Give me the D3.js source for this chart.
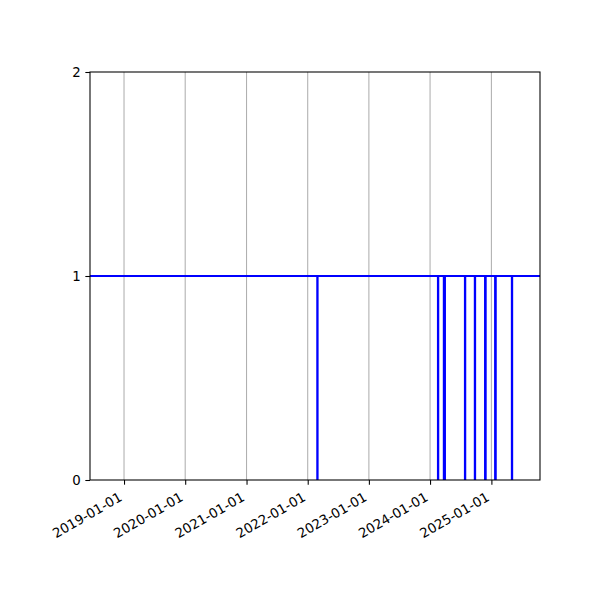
<!DOCTYPE html>
<html><head><meta charset="utf-8">
<script src="https://cdn.jsdelivr.net/npm/d3@7"></script>
<style>body{margin:0;background:#fff}svg{display:block}text{font-family:"DejaVu Sans",sans-serif}</style>
</head><body>
<script>
const dates = ["2018-06-12","2022-02-27","2022-03-01","2024-02-17","2024-02-19","2024-03-23","2024-03-30",
  "2024-07-27","2024-07-29","2024-09-24","2024-09-26","2024-11-24","2024-11-28","2025-01-23","2025-01-27",
  "2025-05-03","2025-05-05","2025-10-18"];
const values = [1,0,1,0,1,0,1,0,1,0,1,0,1,0,1,0,1,1];
const xDomain = ["2018-06-12","2025-10-18"];
const xTicks = ["2019-01-01","2020-01-01","2021-01-01","2022-01-01","2023-01-01","2024-01-01","2025-01-01"];
const yTicks = [0,1,2];

const parse = d3.utcParse("%Y-%m-%d");
const W=600,H=600,L=90,R=540,T=72,B=480;
const svg=d3.select("body").append("svg").attr("width",W).attr("height",H);
const x=d3.scaleUtc().domain(xDomain.map(parse)).range([L,R]);
const y=d3.scaleLinear().domain([0,2]).range([B,T]);

svg.append("defs").append("clipPath").attr("id","c").append("rect").attr("x",L).attr("y",T).attr("width",R-L).attr("height",B-T);

// grid
svg.append("g").selectAll("line").data(xTicks).join("line")
  .attr("x1",d=>x(parse(d))).attr("x2",d=>x(parse(d))).attr("y1",T).attr("y2",B)
  .attr("stroke","#b0b0b0").attr("stroke-width",1.07);

const pts=dates.map((d,i)=>({d:parse(d),v:values[i]}));
svg.append("path").datum(pts).attr("clip-path","url(#c)")
  .attr("d",d3.line().x(p=>x(p.d)).y(p=>y(p.v)).curve(d3.curveStepAfter))
  .attr("fill","none").attr("stroke","#0000ff").attr("stroke-width",2).attr("stroke-linejoin","miter");

// spines
svg.append("rect").attr("x",L).attr("y",T).attr("width",R-L).attr("height",B-T)
  .attr("fill","none").attr("stroke","#000").attr("stroke-width",1.07);

// x axis
const xa=svg.append("g").attr("transform",`translate(0,${B})`)
  .call(d3.axisBottom(x).tickValues(xTicks.map(parse)).tickSize(4.67).tickPadding(0).tickFormat(d3.utcFormat("%Y-%m-%d")));
xa.select(".domain").remove();
xa.selectAll(".tick line").attr("stroke-width",1.07);
xa.selectAll(".tick text").attr("font-size",13.33).attr("font-family","DejaVu Sans").attr("fill","#000")
  .attr("text-anchor","end").attr("dy",null).attr("y",0)
  .attr("transform","translate(-1.5,19.8) rotate(-30)");

// y axis
const ya=svg.append("g").attr("transform",`translate(${L},0)`)
  .call(d3.axisLeft(y).tickValues(yTicks).tickSize(4.67).tickPadding(4.67).tickFormat(d3.format("d")));
ya.select(".domain").remove();
ya.selectAll(".tick line").attr("stroke-width",1.07);
ya.selectAll(".tick text").attr("font-size",13.33).attr("font-family","DejaVu Sans").attr("fill","#000");
</script>
</body></html>
